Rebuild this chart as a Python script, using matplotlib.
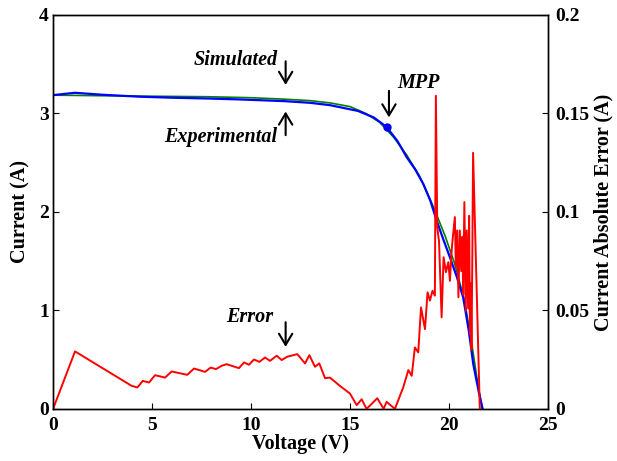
import numpy as np
import matplotlib.pyplot as plt

plt.rcParams['font.family'] = ['Liberation Serif', 'DejaVu Serif']
plt.rcParams['font.weight'] = 'bold'

# Experimental (blue) and simulated (green) I-V curves
v_exp = [0, 1.1, 2.5, 4.4, 6.0, 7.8, 9.5, 11.7, 13.0, 14.0, 15.4, 16.2, 16.85,
         17.4, 17.86, 18.3, 18.7, 19.05, 19.38, 19.7, 20.05, 20.4, 20.72, 21.0,
         21.23, 21.5, 21.7]
i_exp = [3.186, 3.21, 3.19, 3.17, 3.16, 3.152, 3.142, 3.125, 3.108, 3.084, 3.026,
         2.96, 2.863, 2.72, 2.558, 2.43, 2.287, 2.12, 1.913, 1.73, 1.54, 1.34,
         1.133, 0.8, 0.455, 0.18, 0.0]
v_sim = [0, 2.5, 5.0, 7.8, 10.0, 11.7, 13.0, 14.0, 15.0, 15.8, 16.5, 17.2, 17.86,
         18.5, 19.2, 19.8, 20.3, 20.8, 21.2, 21.5, 21.7]
i_sim = [3.186, 3.18, 3.175, 3.17, 3.16, 3.145, 3.13, 3.107, 3.07, 3.0, 2.91,
         2.76, 2.58, 2.37, 2.06, 1.76, 1.47, 1.09, 0.6, 0.2, 0.0]

# Absolute current error
v_err = [0, 1.11, 3.97, 4.26, 4.53, 4.85, 5.15, 5.66, 5.99, 6.78, 7.12, 7.68,
         7.96, 8.23, 8.52, 8.77, 9.39, 9.65, 9.9, 10.15, 10.42, 10.71, 10.96,
         11.3, 11.55, 11.83, 12.34, 12.73, 12.95, 13.23, 13.45, 13.74, 13.99,
         14.49, 15.0, 15.34, 15.59, 15.84, 16.38, 16.7, 16.85, 17.27, 17.69,
         17.95, 18.12, 18.28, 18.45, 18.59, 18.79, 18.92, 19.04, 19.17, 19.29,
         19.34, 19.41, 19.5, 19.63, 19.73, 19.85, 19.97, 20.05, 20.12, 20.18,
         20.3, 20.35, 20.42, 20.48, 20.55, 20.62, 20.68, 20.72, 20.78, 20.85,
         20.9, 20.97, 21.02, 21.06, 21.1, 21.14, 21.18, 21.22, 21.56]
e_err = [0, 0.0292, 0.0117, 0.0109, 0.0142, 0.0134, 0.0171, 0.0159, 0.019,
         0.0173, 0.0205, 0.0188, 0.021, 0.0202, 0.0219, 0.0227, 0.0207, 0.0236,
         0.0224, 0.0251, 0.0239, 0.0261, 0.0244, 0.027, 0.0248, 0.0265, 0.0278,
         0.0231, 0.0273, 0.0214, 0.0231, 0.0156, 0.0159, 0.0117, 0.0078, 0.0019,
         0.0049, 0.0, 0.0054, 0.0, 0.0036, 0.0, 0.0109, 0.0197, 0.0168, 0.0312,
         0.0287, 0.0515, 0.0405, 0.0592, 0.055, 0.06, 0.0575, 0.159, 0.0923,
         0.085, 0.0465, 0.077, 0.0694, 0.0745, 0.065, 0.078, 0.0855, 0.0974,
         0.0719, 0.0906, 0.0567, 0.0906, 0.07, 0.0874, 0.058, 0.105, 0.0499,
         0.0906, 0.051, 0.098, 0.038, 0.064, 0.03, 0.075, 0.13, 0.0]

v_mpp, i_mpp = 16.85, 2.863

fig = plt.figure(figsize=(6.17, 4.61), dpi=100)
ax = fig.add_axes([0.086, 0.113, 0.802, 0.8545])
ax2 = ax.twinx()

ax.plot(v_sim, i_sim, color='green', lw=1.2)
ax.plot(v_exp, i_exp, color='blue', lw=1.6)
ax.plot([v_mpp], [i_mpp], 'o', color='blue', ms=5)
ax2.plot(v_err, e_err, color='red', lw=1.4)

ax.set_xlim(0, 25)
ax.set_ylim(0, 4)
ax2.set_ylim(0, 0.2)
ax.set_xticks([0, 5, 10, 15, 20, 25])
ax.set_yticks([0, 1, 2, 3, 4])
ax2.set_yticks([0, 0.05, 0.1, 0.15, 0.2])
ax2.set_yticklabels(['0', '0.05', '0.1', '0.15', '0.2'])
for a in (ax, ax2):
    a.tick_params(direction='in', labelsize=14, length=4)
    for s in a.spines.values():
        s.set_linewidth(1.0)
ax.tick_params(axis='x', pad=6)
ax.tick_params(axis='y', pad=3)
ax2.tick_params(axis='y', pad=5)

ax.set_xlabel('Voltage (V)', fontsize=14.5, fontweight='bold', labelpad=0)
ax.set_ylabel('Current (A)', fontsize=14.5, fontweight='bold', labelpad=6)
ax2.set_ylabel('Current Absolute Error (A)', fontsize=14.5, fontweight='bold', labelpad=3)

# arrows drawn like a thin "↓" glyph
arrow = dict(arrowstyle='->,head_length=0.5,head_width=0.3', lw=1.5,
             color='black', mutation_scale=16, shrinkA=0, shrinkB=0)
tstyle = dict(fontsize=14.5, fontweight='bold', style='italic')
ax.annotate('', xy=(11.75, 3.29), xytext=(11.75, 3.53), arrowprops=arrow)
ax.annotate('', xy=(11.75, 3.02), xytext=(11.75, 2.78), arrowprops=arrow)
ax.annotate('', xy=(16.97, 2.96), xytext=(16.97, 3.23), arrowprops=arrow)
ax.annotate('', xy=(11.75, 0.63), xytext=(11.75, 0.88), arrowprops=arrow)
ax.text(11.35, 3.54, 'Simulated', ha='right', va='center', **tstyle)
ax.text(11.35, 2.76, 'Experimental', ha='right', va='center', **tstyle)
ax.text(17.4, 3.31, 'MPP', ha='left', va='center', **tstyle)
ax.text(11.1, 0.93, 'Error', ha='right', va='center', **tstyle)

fig.savefig('out.png', dpi=100)
